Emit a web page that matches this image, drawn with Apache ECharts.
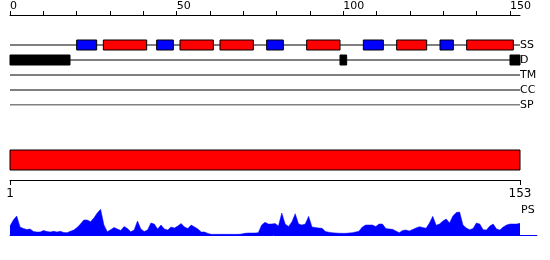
<!DOCTYPE html>
<html>
<head>
<meta charset="utf-8">
<script src="https://cdn.jsdelivr.net/npm/echarts@6/dist/echarts.min.js"></script>
<style>html,body{margin:0;padding:0;background:#fff}#c{width:550px;height:260px}</style>
</head>
<body>
<div id="c"></div>
<script>
// ---- data ----
const seqLength = 153;
const trackNames = ['SS', 'D', 'TM', 'CC', 'SP'];
// secondary structure segments [start, end]
const helixSegments = [[28,41],[51,61],[63,73],[89,99],[116,125],[137,151]];
const strandSegments = [[20,26],[44,49],[77,82],[106,112],[129,133]];
// disorder segments
const disorderSegments = [[0,18],[99,101],[150,153]];
// domain bar (residue range)
const domainStart = 1, domainEnd = 153;
const bottomTicks = [1, 153];
// PS profile, one value per residue
const psValues = [
  9,15,19,8,6.5,5.5,6,3.5,3,3,
  4.5,3.5,3,3.7,3,3.7,2.5,2.3,3.7,5,
  7.5,11,15,15,13.3,17,22,25.7,10,3.3,
  5.3,7.5,6,4.5,8.5,6.5,3.2,5,14,6,
  3.5,5,12,11,6,10,6,5,8,7,
  9,11.5,8,6.5,10,8,6,3,3,1.5,
  0.7,0.7,0.7,0.7,0.7,0.7,0.7,0.7,0.7,1,
  1.7,2,2,2,2.3,10,12.7,11,11,11.5,
  9,22,11,8.5,13,21.3,11,10,11,18.7,
  8,7.5,7,6.7,3.5,2.8,2.3,2,1.8,1.7,
  1.7,2,2.3,3,3.8,8,10,10,10,8.5,
  11,11,6.5,6,5.7,4,2.3,4.5,5,4,
  5.5,7,8.3,7.5,6.7,12,18.7,9.7,11,14,
  16,12,19,22.5,23,10,7,5.3,6.5,12,
  11,5.3,5,9,11,6,5,8,10,11,
  11,11,11.7
];

// ---- chart ----
const FONT = 'DejaVu Sans';
const chart = echarts.init(document.getElementById('c'), null, {renderer: 'canvas'});

const segData = [];
strandSegments.forEach(s => segData.push({value: [s[0], s[1], 0], itemStyle: {color: '#0000ff'}}));
helixSegments.forEach(s => segData.push({value: [s[0], s[1], 0], itemStyle: {color: '#ff0000'}}));
disorderSegments.forEach(s => segData.push({value: [s[0], s[1], 1], itemStyle: {color: '#000000'}}));

function boxRender(h) {
  return function (params, api) {
    const p1 = api.coord([api.value(0), api.value(2)]);
    const p2 = api.coord([api.value(1), api.value(2)]);
    return {
      type: 'rect',
      shape: {x: p1[0], y: p1[1] - h / 2, width: p2[0] - p1[0], height: h},
      style: {fill: api.visual('color'), stroke: '#000', lineWidth: 1}
    };
  };
}

const trackLines = trackNames.map((n, i) => ({
  type: 'line', xAxisIndex: 1, yAxisIndex: 1, name: n,
  data: [[0, i], [seqLength, i]], symbol: 'none', silent: true,
  lineStyle: {color: '#000', width: 1}, z: 1
}));

const psData = psValues.map((v, i) => [i + 1, v]);

chart.setOption({
  animation: false,
  textStyle: {fontFamily: FONT},
  grid: [
    {left: 10, top: 15, width: 500, height: 90},
    {left: 10, top: 15, width: 510, height: 90},
    {left: 10, top: 150, width: 510, height: 30},
    {left: 10, top: 205, width: 526.8, height: 30}
  ],
  xAxis: [
    {gridIndex: 0, type: 'value', position: 'top', min: 0, max: 150, interval: 10,
     axisLine: {show: false, onZero: false}, axisTick: {show: true, length: 4, lineStyle: {color: '#000'}},
     axisLabel: {show: true, margin: 3, align: 'left', color: '#000', fontSize: 11, fontFamily: FONT,
       formatter: v => (v % 50 === 0 ? String(v) : '')},
     splitLine: {show: false}},
    {gridIndex: 1, type: 'value', position: 'top', min: 0, max: seqLength,
     axisLine: {show: true, onZero: false, lineStyle: {color: '#000', width: 1}}, axisTick: {show: false},
     axisLabel: {show: false}, splitLine: {show: false}},
    {gridIndex: 2, type: 'value', position: 'bottom', min: bottomTicks[0], max: bottomTicks[1],
     interval: bottomTicks[1] - bottomTicks[0],
     axisLine: {show: true, onZero: false, lineStyle: {color: '#000', width: 1}},
     axisTick: {show: true, length: 5, lineStyle: {color: '#000'}},
     axisLabel: {show: true, margin: 8, color: '#000', fontSize: 12, fontFamily: FONT},
     splitLine: {show: false}},
    {gridIndex: 3, type: 'value', position: 'bottom', min: 1, max: 158,
     axisLine: {show: true, onZero: false, lineStyle: {color: '#0000ff', width: 1}},
     axisTick: {show: false}, axisLabel: {show: false}, splitLine: {show: false}}
  ],
  yAxis: [
    {gridIndex: 0, type: 'value', show: false, min: 0, max: 1},
    {gridIndex: 1, type: 'value', inverse: true, min: -2, max: 4, interval: 1, position: 'right',
     axisLine: {show: false, onZero: false}, axisTick: {show: false}, splitLine: {show: false},
     axisLabel: {show: true, margin: 0, color: '#000', fontSize: 11, fontFamily: FONT,
       formatter: v => (v >= 0 && v < trackNames.length ? trackNames[v] : '')}},
    {gridIndex: 2, type: 'value', inverse: true, min: 0, max: 3, show: false},
    {gridIndex: 3, type: 'value', min: 0, max: 30, show: false}
  ],
  graphic: [
    {type: 'text', left: 521, top: 205, style: {text: 'PS', fontFamily: FONT, fontSize: 11, fill: '#000'}}
  ],
  series: trackLines.concat([
    {type: 'custom', xAxisIndex: 1, yAxisIndex: 1, renderItem: boxRender(10), data: segData, z: 5, silent: true},
    {type: 'custom', xAxisIndex: 2, yAxisIndex: 2, silent: true,
     renderItem: function (params, api) {
       const p1 = api.coord([api.value(0), 0]);
       const p2 = api.coord([api.value(1), 2]);
       return {type: 'rect', shape: {x: p1[0], y: p1[1], width: p2[0] - p1[0], height: p2[1] - p1[1]},
         style: {fill: '#ff0000', stroke: '#000', lineWidth: 1}};
     },
     data: [[domainStart, domainEnd]]},
    {type: 'line', xAxisIndex: 3, yAxisIndex: 3, data: psData, symbol: 'none', silent: true,
     lineStyle: {width: 0.5, color: '#0000ff'}, areaStyle: {color: '#0000ff', opacity: 1}}
  ])
});
</script>
</body>
</html>
